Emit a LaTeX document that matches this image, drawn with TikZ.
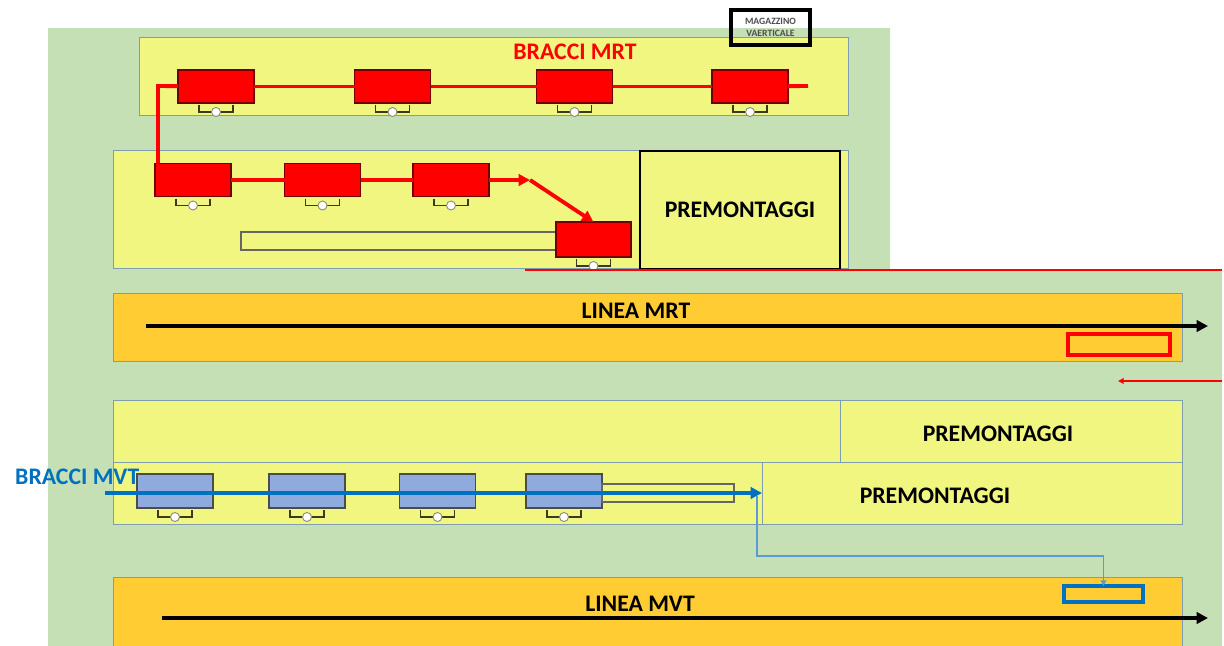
\documentclass[tikz,border=0pt]{standalone}
\usepackage{fontspec}
\setmainfont{Carlito}
\usetikzlibrary{arrows.meta}
\definecolor{prato}{HTML}{C5E0B4}
\definecolor{paglia}{HTML}{F0F680}
\definecolor{oro}{HTML}{FFCC33}
\definecolor{bordo}{HTML}{7F9DB0}
\definecolor{celeste}{HTML}{8FAADC}
\definecolor{bluette}{HTML}{0070C0}
\definecolor{azzurro}{HTML}{5B9BD5}
\definecolor{morsetto}{HTML}{3A3A20}

\begin{document}
\begin{tikzpicture}[x=0.2mm, y=-0.2mm,
  sz/.style 2 args={minimum width=#1*0.2mm, minimum height=#2*0.2mm},
  panel/.style={draw=bordo, fill=paglia, line width=0.5pt, inner sep=0pt, outer sep=0pt},
  bar/.style={draw=bordo, fill=oro, line width=0.5pt, inner sep=0pt, outer sep=0pt},
  mrtbox/.style={draw=red!45!black, fill=red, line width=0.7pt, sz={76}{33}, inner sep=0pt, outer sep=0pt},
  mvtbox/.style={draw=black!70, fill=celeste, line width=0.7pt, sz={76}{34}, inner sep=0pt, outer sep=0pt},
  slot/.style={draw=black!60, line width=0.7pt, inner sep=0pt, outer sep=0pt},
  lbl/.style={font=\fontsize{13.5}{15}\selectfont\bfseries},
  mrtline/.style={red, line width=2.2pt},
  mvtline/.style={bluette, line width=2pt},
  arr/.style={-{Triangle[length=6.5pt, width=6.5pt]}},
  arrsmall/.style={-{Triangle[length=3.2pt, width=3.2pt]}},
  morsa/.pic={
    \draw[morsetto, line width=1.1pt] (-17,2) -- (-17,9) -- (17,9) -- (17,2);
    \draw[morsetto!60, line width=0.5pt, fill=white] (0,9) circle[radius=0.9mm];
  }
]
  \useasboundingbox (0,0) rectangle (1224,646);
  % sfondo
  \fill[prato] (48,28) -- (890,28) -- (890,270) -- (1222,270) -- (1222,646) -- (48,646) -- cycle;

  % zona bracci MRT
  \node[panel, sz={709}{78}] (pmrt1) at (493.5,76) {};
  \node[panel, sz={735}{118}] (pmrt2) at (480.5,209) {};
  \node[panel, lbl, draw=black, line width=1.5pt, sz={200}{118}] (pre1) at (740,210) {PREMONTAGGI};
  \node[draw=black, line width=1.8pt, sz={79}{35}, inner sep=0pt, align=center,
        font=\fontsize{5.5}{6.8}\selectfont\bfseries, text=black!70] (mag) at (770.5,27.5) {MAGAZZINO\\VAERTICALE};
  \node[lbl, text=red] (titmrt) at (575,52) {BRACCI MRT};

  \node[mrtbox] (r1a) at (216,86.5) {};
  \node[mrtbox] (r1b) at (392.5,86.5) {};
  \node[mrtbox] (r1c) at (574.5,86.5) {};
  \node[mrtbox] (r1d) at (750,86.5) {};
  \node[mrtbox] (r2a) at (193,180) {};
  \node[mrtbox] (r2b) at (322.5,180) {};
  \node[mrtbox] (r2c) at (451,180) {};
  \node[slot, sz={315}{18}] (slot1) at (398.5,241) {};
  \node[mrtbox, sz={75}{35}] (r2d) at (593.5,239.5) {};
  \foreach \b in {r1a,r1b,r1c,r1d,r2a,r2b,r2c,r2d}
    \pic at (\b.south) {morsa};

  \coordinate (rA) at (158,86);
  \coordinate (rZ) at (808,86);
  \coordinate (rK) at (530,180);
  \draw[mrtline] (rZ) -- (r1d);
  \draw[mrtline] (r1d) -- (r1c);
  \draw[mrtline] (r1c) -- (r1b);
  \draw[mrtline] (r1b) -- (r1a);
  \draw[mrtline] (r1a) -- (rA) -- (rA |- r2a.north);
  \draw[mrtline] (r2a) -- (r2b);
  \draw[mrtline] (r2b) -- (r2c);
  \draw[mrtline, arr] (r2c) -- (rK);
  \draw[mrtline, arr] (rK) -- (r2d.north);

  % linea MRT
  \coordinate (rL1) at (525,270);
  \coordinate (rL2) at (1222,270);
  \draw[red, line width=1.2pt] (rL1) -- (rL2);
  \node[bar, sz={1069}{68}] (lmrt) at (647.5,327) {};
  \node[lbl] (titlmrt) at (636,311) {LINEA MRT};
  \coordinate (amrt1) at (146,326);
  \coordinate (amrt2) at (1208,326);
  \draw[arr, line width=2.2pt] (amrt1) -- (amrt2);
  \node[slot, draw=red, line width=2pt, sz={102}{21}] (slotmrt) at (1119,344.5) {};
  \coordinate (rR1) at (1222,381);
  \coordinate (rR2) at (1118,381);
  \draw[red, line width=1pt, arrsmall] (rR1) -- (rR2);

  % zona bracci MVT
  \node[panel, sz={727}{62}] (mvtup) at (476.5,431) {};
  \node[panel, sz={342}{62}] (pre2) at (1011,431) {};
  \node[panel, sz={649}{62}] (mvtlow) at (437.5,493) {};
  \node[panel, sz={420}{62}] (pre3) at (972,493) {};
  \node[lbl] (titpre2) at (998,434) {PREMONTAGGI};
  \node[lbl] (titpre3) at (935,496) {PREMONTAGGI};
  \node[lbl, text=bluette, anchor=west] (titmvt) at (9,477) {BRACCI MVT};

  \node[mvtbox] (b1) at (175,491) {};
  \node[mvtbox] (b2) at (307,491) {};
  \node[mvtbox] (b3) at (437.5,491) {};
  \node[mvtbox] (b4) at (564,491) {};
  \node[slot, sz={132}{18}] (slot2) at (668,493) {};
  \foreach \b in {b1,b2,b3,b4}
    \pic at (\b.south) {morsa};

  \coordinate (bA) at (105,493);
  \draw[mvtline, arr] (bA) -- (pre3.west);
  \coordinate (bK1) at (757,496);
  \coordinate (bK2) at (757,556);

  % linea MVT
  \node[bar, sz={1069}{72}] (lmvt) at (647.5,613) {};
  \node[lbl] (titlmvt) at (640,604) {LINEA MVT};
  \node[slot, draw=bluette, line width=1.8pt, sz={79}{16}] (slotmvt) at (1103.5,594) {};
  \draw[azzurro, line width=0.8pt, arrsmall] (bK1) -- (bK2) -| (slotmvt.north);
  \coordinate (amvt1) at (162,618);
  \coordinate (amvt2) at (1208,618);
  \draw[arr, line width=2.2pt] (amvt1) -- (amvt2);
\end{tikzpicture}
\end{document}
